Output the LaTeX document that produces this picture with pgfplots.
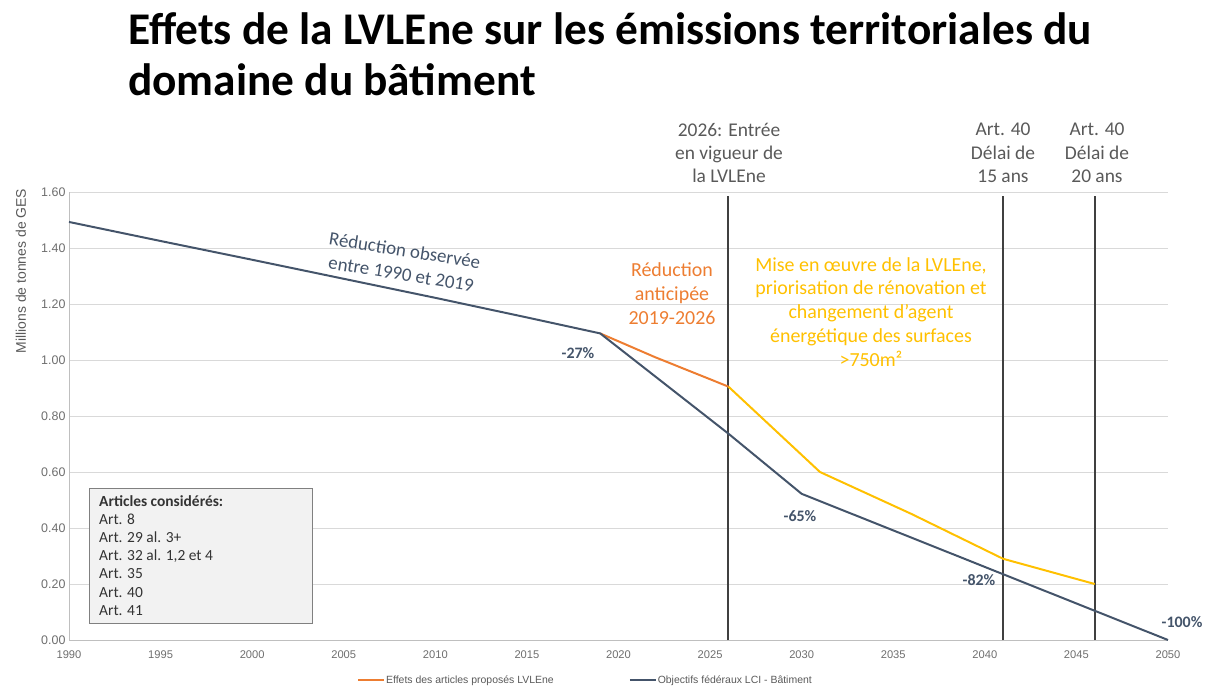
\documentclass[border=0pt]{standalone}
\usepackage{fontspec}
\setmainfont{Carlito}
\newfontfamily\arial{Liberation Sans}
\usepackage{pgfplots}
\pgfplotsset{compat=1.18}
\definecolor{navy}{HTML}{44546A}
\definecolor{orng}{HTML}{ED7D31}
\definecolor{yel}{HTML}{FFC000}
\definecolor{txtgray}{HTML}{595959}
\definecolor{tickgray}{HTML}{6E6E6E}
\definecolor{vline}{HTML}{404040}
\begin{document}
\begin{tikzpicture}
\useasboundingbox (-69bp,-48bp) rectangle (1136bp,640bp);
\begin{axis}[
  at={(0,0)}, anchor=south west,
  scale only axis, width=1099bp, height=448bp,
  xmin=1990, xmax=2050, ymin=0, ymax=1.6,
  axis x line=bottom, axis y line=left,
  axis line style={-, draw=black!25, line width=1pt},
  xtick={1990,1995,2000,2005,2010,2015,2020,2025,2030,2035,2040,2045,2050},
  ytick={0,0.2,0.4,0.6,0.8,1,1.2,1.4,1.6},
  major tick length=0pt,
  ymajorgrids, grid style={draw=black!15, line width=0.9pt},
  x tick label style={font=\arial\fontsize{11.2}{13}\selectfont, text=tickgray,
     /pgf/number format/set thousands separator={}, yshift=-7bp},
  y tick label style={font=\arial\fontsize{12.5}{14}\selectfont, text=tickgray,
     /pgf/number format/.cd, fixed, fixed zerofill, precision=2},
  /pgf/number format/assume math mode=true,
  clip=false,
  legend style={at={(0.262,-0.0893)}, anchor=west, draw=none, fill=none,
    legend columns=2, font=\arial\fontsize{10.5}{12}\selectfont, text=txtgray,
    /tikz/every even column/.append style={column sep=74bp},
    inner sep=0pt, nodes={inner sep=1pt}},
  legend cell align=left,
  legend image code/.code={\draw[#1, line width=2pt] (0bp,0bp) -- (26bp,0bp);},
]
% vertical markers
\addplot[forget plot, draw=vline, line width=1.8pt] coordinates {(2026,0) (2026,1.585)};
\addplot[forget plot, draw=vline, line width=1.8pt] coordinates {(2041,0) (2041,1.585)};
\addplot[forget plot, draw=vline, line width=1.8pt] coordinates {(2046,0) (2046,1.585)};
% yellow continuation
\addplot[forget plot, draw=yel, line width=2pt] coordinates {
  (2026,0.905) (2031,0.600) (2036,0.450) (2041,0.290) (2046,0.200)};
% orange
\addplot[draw=orng, line width=2pt] coordinates {
  (2019,1.095) (2022,1.010) (2026,0.905)};
\addlegendentry{Effets des articles propos\'es LVLEne}
% navy
\addplot[draw=navy, line width=2pt] coordinates {
  (1990,1.493) (1995,1.425) (2000,1.358) (2005,1.290) (2010,1.222)
  (2015,1.152) (2019,1.095) (2026,0.737) (2030,0.522) (2050,0.000)};
\addlegendentry{Objectifs f\'ed\'eraux LCI - B\^atiment}
\end{axis}
\begin{scope}[x=1bp, y=1bp, shift={(-69bp,-48bp)}]
  % title
  \node[anchor=base west, inner sep=0pt, font=\bfseries\fontsize{45.5}{52}\selectfont] at (128,{688-44}) {Effets de la LVLEne sur les émissions territoriales du};
  \node[anchor=base west, inner sep=0pt, font=\bfseries\fontsize{45.5}{52}\selectfont] at (128,{688-95}) {domaine du bâtiment};
  % y label
  \node[rotate=90, text=txtgray, font=\arial\fontsize{14}{16}\selectfont, inner sep=0pt] at (21,{688-271}) {Millions de tonnes de GES};
  % annotations top
  \node[align=center, text=txtgray, font=\fontsize{19.5}{23.5}\selectfont, inner sep=0pt] at (729,{688-153}) {2026: Entrée\\en vigueur de\\la LVLEne};
  \node[align=center, text=txtgray, font=\fontsize{19.5}{23.5}\selectfont, inner sep=0pt] at (1003,{688-153}) {Art. 40\\Délai de\\15 ans};
  \node[align=center, text=txtgray, font=\fontsize{19.5}{23.5}\selectfont, inner sep=0pt] at (1097,{688-153}) {Art. 40\\Délai de\\20 ans};
  % orange block
  \node[align=center, text=orng, font=\fontsize{20}{24}\selectfont, inner sep=0pt] at (672,{688-294}) {Réduction\\anticipée\\2019-2026};
  % yellow block
  \node[align=center, text=yel, font=\fontsize{20}{24}\selectfont, inner sep=0pt] at (871,{688-312}) {Mise en œuvre de la LVLEne,\\priorisation de rénovation et\\changement d’agent\\énergétique des surfaces\\>750m²};
  % rotated
  \node[align=center, text=navy, font=\fontsize{19}{24}\selectfont, inner sep=0pt, rotate=-9] at (403,{688-262}) {Réduction observée\\entre 1990 et 2019};
  % percentages
  \node[text=navy, font=\bfseries\fontsize{16}{18}\selectfont, inner sep=0pt] at (578,{688-353}) {-27\%};
  \node[text=navy, font=\bfseries\fontsize{16}{18}\selectfont, inner sep=0pt] at (800,{688-516}) {-65\%};
  \node[text=navy, font=\bfseries\fontsize{16}{18}\selectfont, inner sep=0pt] at (979,{688-580}) {-82\%};
  \node[text=navy, font=\bfseries\fontsize{16}{18}\selectfont, inner sep=0pt] at (1182,{688-622}) {-100\%};
  % box
  \draw[fill=black!5, draw=black!50, line width=1pt] (89,{688-488}) rectangle (312,{688-623});
  \node[anchor=north west, align=left, text=black!80, font=\fontsize{15.5}{18.3}\selectfont, inner sep=0pt] at (99,{688-495}) {\textbf{Articles considérés:}\\Art. 8\\Art. 29 al. 3+\\Art. 32 al. 1,2 et 4\\Art. 35\\Art. 40\\Art. 41};
\end{scope}
\end{tikzpicture}
\end{document}
